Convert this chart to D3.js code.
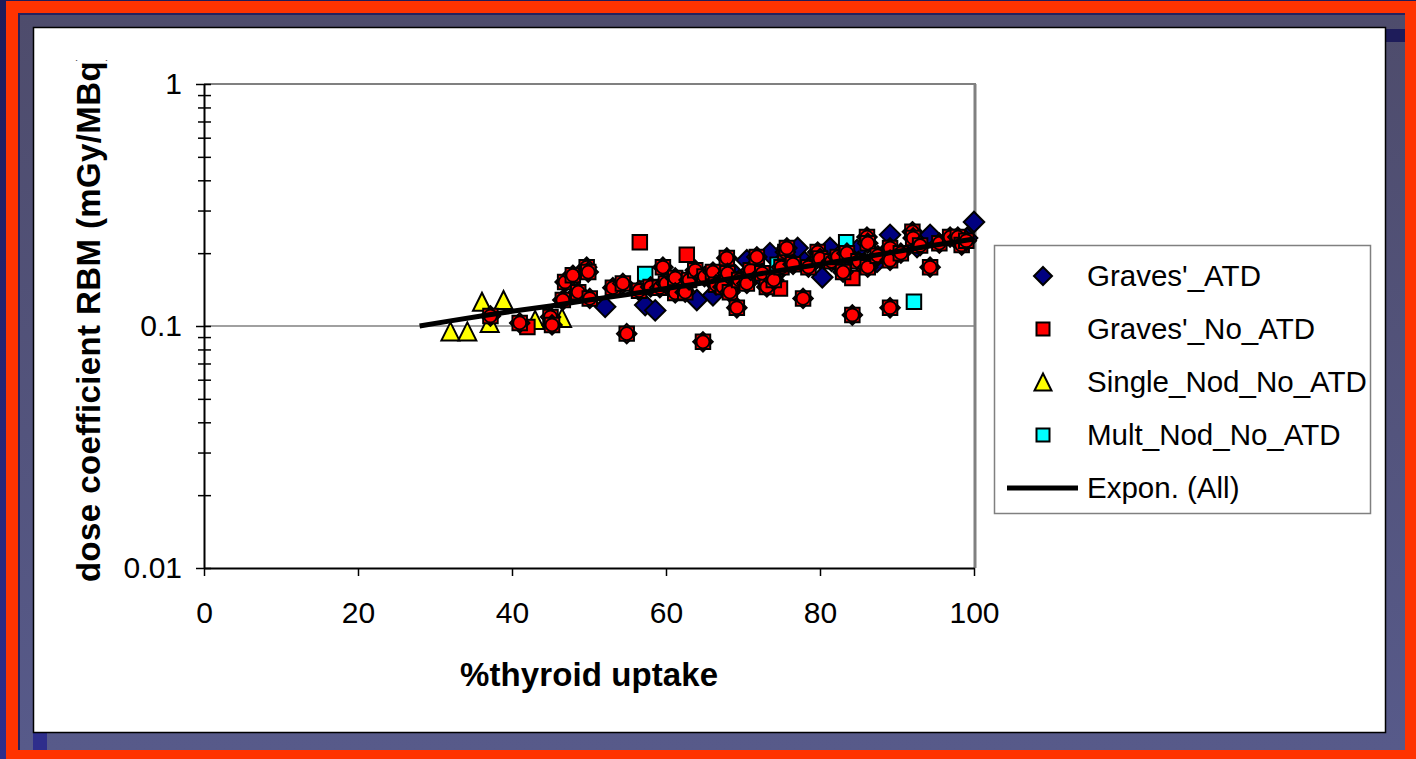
<!DOCTYPE html>
<html>
<head>
<meta charset="utf-8">
<script src="https://cdn.jsdelivr.net/npm/d3@7"></script>
<style>
  html, body { margin: 0; padding: 0; background: #1e1c5a; overflow: hidden; }
  svg { display: block; }
  text { font-family: "Liberation Sans", Arial, sans-serif; }
</style>
</head>
<body>
<svg id="chart" width="1416" height="759"></svg>
<script>
// values (x = % thyroid uptake, y = dose coefficient)
const gravesAtdX = [52.1, 57.3, 58.6, 64.0, 66.1, 69.0, 70.5, 72.2, 73.5, 74.5, 77.1, 78.0, 80.3, 81.3, 82.9, 84.8, 87.4, 89.1, 92.6, 94.3, 99.1, 100.0];
const gravesAtdY = [0.120, 0.122, 0.116, 0.128, 0.134, 0.162, 0.187, 0.162, 0.200, 0.167, 0.210, 0.184, 0.159, 0.210, 0.175, 0.206, 0.184, 0.238, 0.212, 0.238, 0.231, 0.269];

const gravesNoAtdX = [37.2, 41.0, 45.0, 45.2, 46.6, 46.9, 47.9, 48.6, 49.7, 49.9, 50.1, 53.1, 54.4, 54.9, 56.5, 58.0, 59.2, 59.6, 60.0, 61.2, 61.2, 62.5, 63.0, 63.8, 64.8, 65.0, 66.1, 66.5, 67.4, 67.9, 68.0, 68.3, 69.2, 69.5, 70.5, 71.0, 71.8, 72.5, 73.1, 74.0, 75.0, 75.5, 75.7, 76.5, 77.8, 78.5, 79.7, 80.0, 81.5, 82.3, 83.0, 83.5, 84.2, 85.0, 86.1, 86.2, 86.2, 87.5, 89.1, 89.1, 89.1, 90.5, 92.0, 92.1, 93.0, 94.3, 95.5, 96.9, 97.9, 98.4, 99.0];
const gravesNoAtdY = [0.110, 0.103, 0.109, 0.101, 0.128, 0.152, 0.162, 0.138, 0.175, 0.167, 0.130, 0.144, 0.150, 0.093, 0.140, 0.145, 0.144, 0.175, 0.150, 0.158, 0.137, 0.138, 0.155, 0.170, 0.086, 0.160, 0.167, 0.148, 0.145, 0.191, 0.165, 0.138, 0.119, 0.155, 0.150, 0.170, 0.193, 0.165, 0.145, 0.155, 0.175, 0.202, 0.210, 0.180, 0.130, 0.175, 0.202, 0.190, 0.185, 0.193, 0.167, 0.200, 0.111, 0.185, 0.233, 0.220, 0.175, 0.195, 0.210, 0.187, 0.119, 0.200, 0.245, 0.231, 0.215, 0.175, 0.220, 0.233, 0.233, 0.216, 0.225];
// the few No_ATD points that show as a bare square
const gravesNoAtdPlainX = [42.0, 56.6, 62.7, 74.8, 84.2];
const gravesNoAtdPlainY = [0.099, 0.222, 0.197, 0.143, 0.158];

const singleNodX = [32.0, 34.2, 36.1, 37.1, 38.9, 43.0, 46.5];
const singleNodY = [0.095, 0.095, 0.126, 0.103, 0.128, 0.106, 0.108];

const multNodX = [57.3, 74.5, 83.4, 92.2];
const multNodY = [0.164, 0.179, 0.222, 0.126];

const trendX = [28, 32, 36, 40, 45, 50, 55, 60, 65, 70, 75, 80, 85, 90, 95, 100];
const trendY = [0.100, 0.105, 0.110, 0.115, 0.121, 0.128, 0.135, 0.143, 0.151, 0.160, 0.170, 0.180, 0.191, 0.203, 0.216, 0.229];

const seriesNames = ["Graves'_ATD", "Graves'_No_ATD", "Single_Nod_No_ATD", "Mult_Nod_No_ATD", "Expon. (All)"];
const xTickValues = [0, 20, 40, 60, 80, 100];
const yLabelTicks = [0.01, 0.1, 1];
const yTickLabels = ["0.01", "0.1", "1"];

const zip = (xs, ys) => xs.map((x, i) => ({x, y: ys[i]}));

const svg = d3.select("#chart");

// --- slide frame ---
const defs = svg.append("defs");
const slate = defs.append("linearGradient").attr("id", "slate").attr("x1", 0).attr("y1", 0).attr("x2", 0).attr("y2", 1);
slate.append("stop").attr("offset", "0%").attr("stop-color", "#4e4c6c");
slate.append("stop").attr("offset", "100%").attr("stop-color", "#575a8a");
const edge = defs.append("linearGradient").attr("id", "edge").attr("x1", 0).attr("y1", 0).attr("x2", 0).attr("y2", 1);
edge.append("stop").attr("offset", "0%").attr("stop-color", "#1e1c5a");
edge.append("stop").attr("offset", "100%").attr("stop-color", "#2e2e8c");

svg.append("rect").attr("x", 0).attr("y", 0).attr("width", 1416).attr("height", 759).attr("fill", "url(#edge)");
svg.append("rect").attr("x", 6).attr("y", 1).attr("width", 1410).attr("height", 758).attr("fill", "#ff3300");
svg.append("rect").attr("x", 18).attr("y", 13).attr("width", 1387).attr("height", 737).attr("fill", "#24225e");
svg.append("rect").attr("x", 20).attr("y", 15).attr("width", 1385).attr("height", 735).attr("fill", "url(#slate)");
svg.append("rect").attr("x", 1386).attr("y", 29).attr("width", 19).attr("height", 13).attr("fill", "#1e1c5a");
svg.append("rect").attr("x", 33).attr("y", 733).attr("width", 14).attr("height", 17).attr("fill", "#2e2e8c");
svg.append("rect").attr("x", 33.5).attr("y", 27.5).attr("width", 1352).attr("height", 705)
    .attr("fill", "#fff").attr("stroke", "#000").attr("stroke-width", 1.5);

// --- scales ---
const x = d3.scaleLinear().domain([0, 100]).range([204, 974]);
const y = d3.scaleLog().domain([0.01, 1]).range([568, 84]);

// custom marker shapes (bbox centred like Excel markers)
const diamondType = {draw(ctx, size) { const s = Math.sqrt(size) / 2; ctx.moveTo(0, -s); ctx.lineTo(s, 0); ctx.lineTo(0, s); ctx.lineTo(-s, 0); ctx.closePath(); }};
const triangleType = {draw(ctx, size) { const s = Math.sqrt(size) / 2; ctx.moveTo(0, -s); ctx.lineTo(s, s); ctx.lineTo(-s, s); ctx.closePath(); }};
const diamond = d3.symbol(diamondType, 420)();
const diamondSmall = d3.symbol(diamondType, 380)();
const square = d3.symbol(d3.symbolSquare, 210)();
const triangle = d3.symbol(triangleType, 324)();
const circle = d3.symbol(d3.symbolCircle, 130)();

// --- gridline + plot border ---
svg.append("line").attr("x1", x(0)).attr("x2", x(100) + 1).attr("y1", y(0.1)).attr("y2", y(0.1))
    .attr("stroke", "#808080").attr("stroke-width", 1.5);
svg.append("line").attr("x1", x(0)).attr("x2", x(100) + 2).attr("y1", y(1)).attr("y2", y(1))
    .attr("stroke", "#808080").attr("stroke-width", 2);
svg.append("line").attr("x1", x(100) + 1).attr("x2", x(100) + 1).attr("y1", y(1)).attr("y2", y(0.01))
    .attr("stroke", "#808080").attr("stroke-width", 3);

// --- axes ---
const isMajor = d => yLabelTicks.some(v => Math.abs(d - v) / v < 1e-6);
const yAxisL = d3.axisLeft(y).tickValues(y.ticks()).tickSize(8).tickSizeOuter(0).tickPadding(14)
    .tickFormat(d => { const i = yLabelTicks.findIndex(v => Math.abs(d - v) / v < 1e-6); return i >= 0 ? yTickLabels[i] : ""; });
const gyl = svg.append("g").attr("transform", `translate(${x(0)},0)`).call(yAxisL);
gyl.selectAll(".tick line").attr("x2", d => isMajor(d) ? -8 : -6);
const gyr = svg.append("g").attr("transform", `translate(${x(0)},0)`)
    .call(d3.axisRight(y).tickValues(y.ticks()).tickSize(7).tickSizeOuter(0).tickFormat(""));
gyr.select(".domain").remove();

const gx = svg.append("g").attr("transform", `translate(0,${y(0.01)})`)
    .call(d3.axisBottom(x).tickValues(xTickValues).tickSize(8).tickSizeOuter(0).tickPadding(26));

[gyl, gyr, gx].forEach(g => {
    g.selectAll("line").attr("stroke", "#000").attr("stroke-width", 1.5);
    g.selectAll(".domain").attr("stroke", "#000").attr("stroke-width", 2);
    g.selectAll("text").attr("fill", "#000").style("font-size", "30px")
        .style("font-family", '"Liberation Sans", Arial, sans-serif');
});

// --- axis titles ---
defs.append("clipPath").attr("id", "ylabclip").append("rect")
    .attr("x", 40).attr("y", 60).attr("width", 100).attr("height", 600);
svg.append("g").attr("clip-path", "url(#ylabclip)")
  .append("text")
    .attr("transform", "rotate(-90)")
    .attr("x", -582).attr("y", 100)
    .attr("textLength", 532).attr("lengthAdjust", "spacing")
    .style("font-size", "33px").style("font-weight", "bold")
    .text("dose coefficient RBM (mGy/MBq)");

svg.append("text")
    .attr("x", 460).attr("y", 686)
    .attr("textLength", 258).attr("lengthAdjust", "spacing")
    .style("font-size", "33px").style("font-weight", "bold")
    .text("%thyroid uptake");

// --- markers ---
const marks = svg.append("g").attr("stroke", "#000").attr("stroke-width", 2);

marks.selectAll(".atd").data(zip(gravesAtdX, gravesAtdY)).enter().append("path")
    .attr("d", diamond).attr("fill", "#000080")
    .attr("transform", d => `translate(${x(d.x)},${y(d.y)})`);

marks.selectAll(".single").data(zip(singleNodX, singleNodY)).enter().append("path")
    .attr("d", triangle).attr("fill", "#ffff00")
    .attr("transform", d => `translate(${x(d.x)},${y(d.y)})`);

marks.selectAll(".mult").data(zip(multNodX, multNodY)).enter().append("path")
    .attr("d", square).attr("fill", "#00ffff")
    .attr("transform", d => `translate(${x(d.x)},${y(d.y)})`);

marks.selectAll(".plain").data(zip(gravesNoAtdPlainX, gravesNoAtdPlainY)).enter().append("path")
    .attr("d", square).attr("fill", "#ff0000")
    .attr("transform", d => `translate(${x(d.x)},${y(d.y)})`);

const stars = marks.selectAll(".noatd").data(zip(gravesNoAtdX, gravesNoAtdY)).enter().append("g")
    .attr("transform", d => `translate(${x(d.x)},${y(d.y)})`);
stars.append("path").attr("d", diamondSmall).attr("fill", "#ff0000");
stars.append("path").attr("d", square).attr("fill", "#ff0000");
stars.append("path").attr("d", circle).attr("fill", "#ff0000").attr("stroke-width", 1.8);

// --- trend line ---
svg.append("path")
    .datum(zip(trendX, trendY))
    .attr("fill", "none").attr("stroke", "#000").attr("stroke-width", 5)
    .attr("d", d3.line().x(d => x(d.x)).y(d => y(d.y)));

// --- legend ---
const legend = svg.append("g");
legend.append("rect").attr("x", 994.5).attr("y", 245.5).attr("width", 376).attr("height", 268)
    .attr("fill", "#fff").attr("stroke", "#808080").attr("stroke-width", 1.5);
const rowY = d3.scalePoint().domain(seriesNames).range([276, 488]);
const legendShapes = [
    {d: d3.symbol(diamondType, 324)(), fill: "#000080"},
    {d: d3.symbol(d3.symbolSquare, 169)(), fill: "#ff0000"},
    {d: d3.symbol(triangleType, 289)(), fill: "#ffff00"},
    {d: d3.symbol(d3.symbolSquare, 169)(), fill: "#00ffff"}
];
seriesNames.forEach((name, i) => {
    const cy = rowY(name);
    if (i < 4) {
        legend.append("path").attr("d", legendShapes[i].d).attr("fill", legendShapes[i].fill)
            .attr("stroke", "#000").attr("stroke-width", 2)
            .attr("transform", `translate(1043,${cy})`);
    } else {
        legend.append("line").attr("x1", 1007).attr("x2", 1078).attr("y1", cy).attr("y2", cy)
            .attr("stroke", "#000").attr("stroke-width", 5);
    }
    legend.append("text").attr("x", 1087).attr("y", cy + 10)
        .style("font-size", "29.5px")
        .text(name);
});
</script>
</body>
</html>
